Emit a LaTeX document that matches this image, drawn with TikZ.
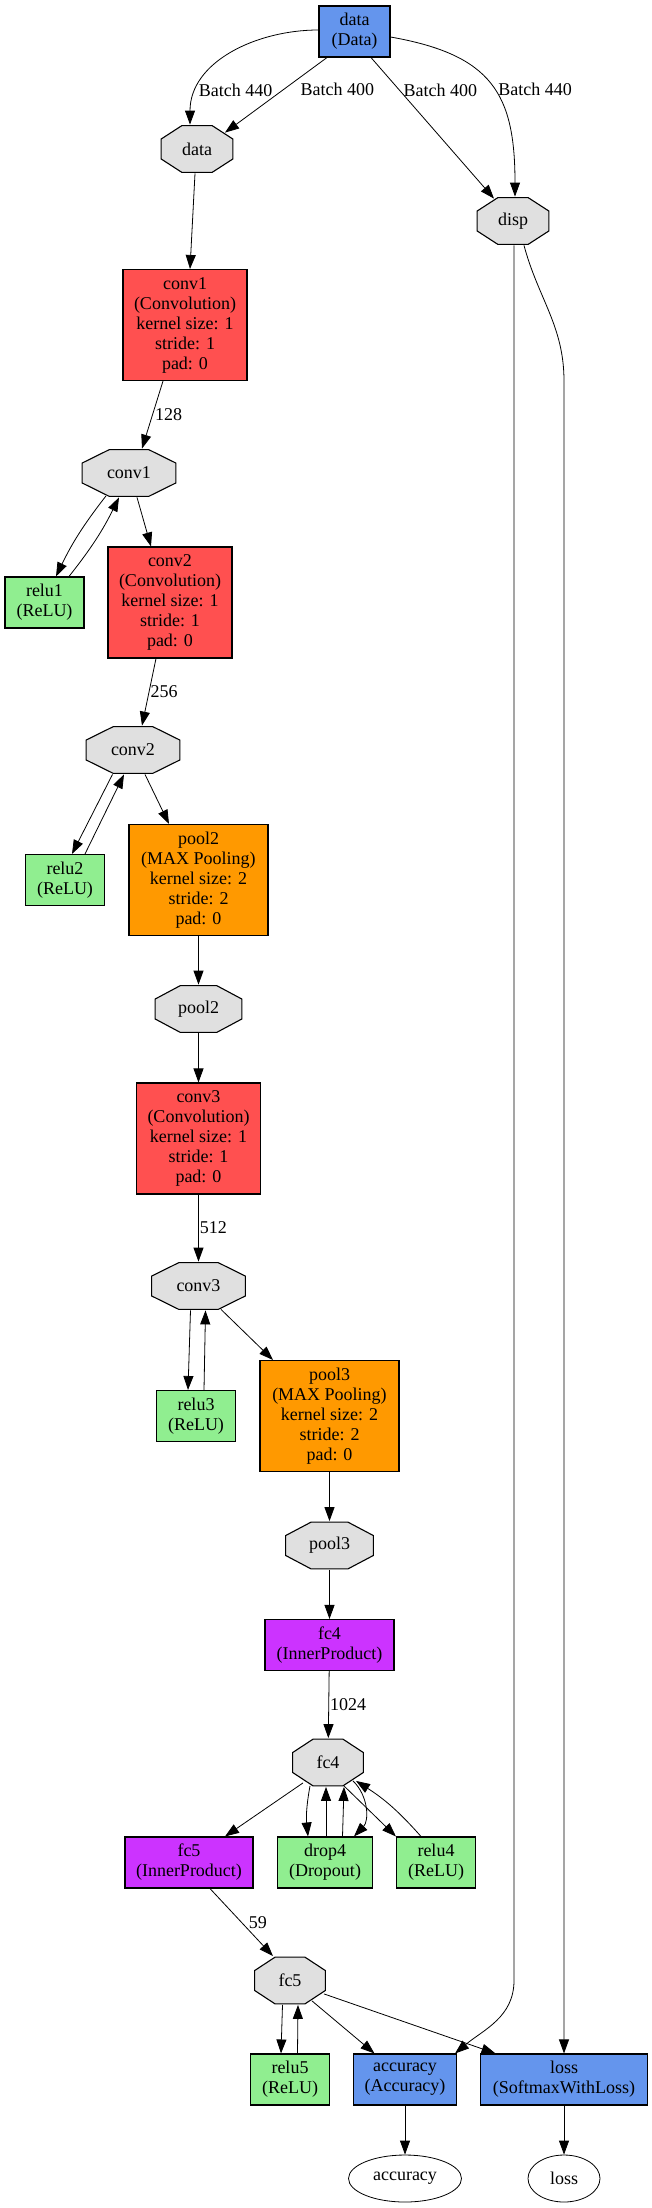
\documentclass[tikz,border=0pt]{standalone}
\usepackage{fontspec}
\setmainfont{Liberation Serif}
\usetikzlibrary{positioning, calc, shapes.geometric, arrows.meta}

\definecolor{datablue}{HTML}{6495ED}
\definecolor{convred}{HTML}{FF5050}
\definecolor{poolorange}{HTML}{FF9900}
\definecolor{fcpurple}{HTML}{CC33FF}
\definecolor{relugreen}{HTML}{90EE90}
\definecolor{blobgray}{HTML}{E0E0E0}

\begin{document}
\begin{tikzpicture}[on grid, thick, font=\fontsize{18}{20}\selectfont,
    layer/.style = {draw, rectangle, align=center, inner sep=1pt, minimum height=51pt, line width=1.1pt},
    big/.style = {minimum height=111pt},
    conv/.style = {layer, big, fill=convred, minimum width=124pt},
    pool/.style = {layer, big, fill=poolorange, minimum width=139pt},
    fc/.style = {layer, fill=fcpurple, minimum width=129pt},
    relu/.style = {layer, fill=relugreen, minimum width=79pt},
    io/.style = {layer, fill=datablue},
    result/.style = {draw, ellipse, inner sep=0pt, minimum height=47pt},
    blob/.style = {inner sep=0pt, minimum height=48pt,
      path picture={
        \coordinate (pnw) at (path picture bounding box.north west);
        \coordinate (pne) at (path picture bounding box.north east);
        \coordinate (pse) at (path picture bounding box.south east);
        \coordinate (psw) at (path picture bounding box.south west);
        \draw[fill=blobgray, line width=1.1pt]
          ($(pnw)!.293!(pne)+(0,-.6pt)$) -- ($(pnw)!.707!(pne)+(0,-.6pt)$)
          -- ($(pne)!.293!(pse)+(-.6pt,0)$) -- ($(pne)!.707!(pse)+(-.6pt,0)$)
          -- ($(pse)!.293!(psw)+(0,.6pt)$) -- ($(pse)!.707!(psw)+(0,.6pt)$)
          -- ($(psw)!.293!(pnw)+(.6pt,0)$) -- ($(psw)!.707!(pnw)+(.6pt,0)$) -- cycle;
      }},
    arr/.style = {-{Triangle[length=14pt, width=10pt]}},
    lbl/.style = {inner sep=1pt, anchor=west}]
    \useasboundingbox (0,0) rectangle (652pt,-2208pt);

    \node[io, minimum width=71pt] (data) at (354.5pt,-31.5pt) {data\\(Data)};
    \node[blob, minimum width=73pt] (datab) [below left=117.5pt and 157.5pt of data] {data};
    \node[blob, minimum width=73pt] (disp) [below right=189.5pt and 158.5pt of data] {disp};
    \node[conv] (conv1) [below left=176pt and 12pt of datab] {conv1\\(Convolution)\\kernel size: 1\\stride: 1\\pad: 0};
    \node[blob, minimum width=95pt] (conv1b) [below left=148pt and 56pt of conv1] {conv1};
    \node[relu] (relu1) [below left=129.5pt and 84.5pt of conv1b] {relu1\\(ReLU)};
    \node[conv] (conv2) [right=125.5pt of relu1] {conv2\\(Convolution)\\kernel size: 1\\stride: 1\\pad: 0};
    \node[blob, minimum width=95pt] (conv2b) [below left=147.5pt and 37pt of conv2] {conv2};
    \node[relu] (relu2) [below left=130pt and 68pt of conv2b] {relu2\\(ReLU)};
    \node[pool] (pool2) [right=133.5pt of relu2] {pool2\\(MAX Pooling)\\kernel size: 2\\stride: 2\\pad: 0};
    \node[blob, minimum width=88pt] (pool2b) [below=129pt of pool2] {pool2};
    \node[conv] (conv3) [below=129.5pt of pool2b] {conv3\\(Convolution)\\kernel size: 1\\stride: 1\\pad: 0};
    \node[blob, minimum width=95pt] (conv3b) [below=147.5pt of conv3] {conv3};
    \node[relu] (relu3) [below left=130pt and 2.5pt of conv3b] {relu3\\(ReLU)};
    \node[pool] (pool3) [right=133.5pt of relu3] {pool3\\(MAX Pooling)\\kernel size: 2\\stride: 2\\pad: 0};
    \node[blob, minimum width=89pt] (pool3b) [below=129.5pt of pool3] {pool3};
    \node[fc] (fc4) [below=99.5pt of pool3b] {fc4\\(InnerProduct)};
    \node[blob, minimum width=72pt] (fc4b) [below left=117.5pt and 1.5pt of fc4] {fc4};
    \node[relu, minimum width=95pt] (drop4) [below left=100pt and 3pt of fc4b] {drop4\\(Dropout)};
    \node[fc, minimum width=128pt] (fc5) [left=136pt of drop4] {fc5\\(InnerProduct)};
    \node[relu] (relu4) [right=111pt of drop4] {relu4\\(ReLU)};
    \node[blob, minimum width=72pt] (fc5b) [below right=118pt and 101pt of fc5] {fc5};
    \node[relu] (relu5) [below=99pt of fc5b] {relu5\\(ReLU)};
    \node[io, minimum width=103pt] (accuracy) [right=115pt of relu5] {accuracy\\(Accuracy)};
    \node[io, minimum width=167pt] (loss) [right=159pt of accuracy] {loss\\(SoftmaxWithLoss)};
    \node[result, minimum width=113pt] (accout) [below=99pt of accuracy] {accuracy};
    \node[result, minimum width=72pt] (lossout) [below=99pt of loss] {loss};

    % data layer tops
    \draw[arr] ([yshift=1.5pt]data.west) to[out=180, in=90] node[lbl, pos=.8] {Batch 440} ([xshift=-7pt]datab.north);
    \draw[arr] ([xshift=-27.5pt]data.south) -- node[lbl, pos=.43, xshift=16pt] {Batch 400} ([xshift=28pt, yshift=-8pt]datab.north);
    \draw[arr] ([xshift=16.5pt]data.south) -- node[lbl, pos=.23, xshift=3pt] {Batch 400} ([xshift=-19pt, yshift=-2pt]disp.north);
    \draw[arr] ([yshift=-5.5pt]data.east) to[out=-10, in=90, looseness=1.3] node[lbl, pos=.53, xshift=3pt] {Batch 440} ([xshift=2pt]disp.north);
    \draw[arr] ([xshift=-2pt]datab.south) -- ([xshift=5pt]conv1.north);
    \draw[arr] ([xshift=1pt]disp.south) -- ($(disp.south |- fc5b.center)+(1pt,0)$) to[out=-90, in=40] ([xshift=-2pt]accuracy.north east);
    \draw[arr] ([xshift=11pt]disp.south) to[out=-75, in=90] (loss.north |- conv1.south) -- (loss.north);

    % conv1
    \draw[arr] ([xshift=-22pt]conv1.south) -- node[lbl, pos=.49, xshift=1pt] {128} ([xshift=13pt]conv1b.north);
    \draw[arr] ([xshift=-23pt, yshift=1.5pt]conv1b.south) to[bend right=6] ([xshift=11.5pt]relu1.north);
    \draw[arr] ([xshift=24.5pt]relu1.north) to[bend right=6] ([xshift=-10pt]conv1b.south);
    \draw[arr] ([xshift=8pt]conv1b.south) -- ([xshift=-19pt]conv2.north);

    % conv2
    \draw[arr] ([xshift=-14pt]conv2.south) -- node[lbl, pos=.49] {256} ([xshift=9pt]conv2b.north);
    \draw[arr] ([xshift=-20.5pt]conv2b.south) -- ([xshift=7pt]relu2.north);
    \draw[arr] ([xshift=20pt]relu2.north) -- ([xshift=-9pt]conv2b.south);
    \draw[arr] ([xshift=12pt]conv2b.south) -- ([xshift=-29.5pt]pool2.north);
    \draw[arr] (pool2) -- (pool2b);
    \draw[arr] (pool2b) -- (conv3);

    % conv3
    \draw[arr] (conv3) -- node[lbl, pos=.5] {512} (conv3b);
    \draw[arr] ([xshift=-8pt]conv3b.south) -- ([xshift=-8pt]relu3.north);
    \draw[arr] ([xshift=8pt]relu3.north) -- ([xshift=7pt]conv3b.south);
    \draw[arr] ([xshift=22.5pt, yshift=1pt]conv3b.south) -- ([xshift=-56.5pt]pool3.north);
    \draw[arr] (pool3) -- (pool3b);
    \draw[arr] (pool3b) -- (fc4);

    % fc4
    \draw[arr] (fc4) -- node[lbl, pos=.5] {1024} (fc4b);
    \draw[arr] ([xshift=-25pt, yshift=4pt]fc4b.south) -- ([xshift=36pt]fc5.north);
    \draw[arr] ([xshift=-18pt, yshift=1pt]fc4b.south) to[bend right=8] ([xshift=-17pt]drop4.north);
    \draw[arr] ([xshift=1pt]drop4.north) -- ([xshift=-2pt]fc4b.south);
    \draw[arr] ([xshift=17.5pt]drop4.north) -- ([xshift=16pt]fc4b.south);
    \draw[arr] ([xshift=25pt, yshift=6pt]fc4b.south) to[bend left=45] ([xshift=29pt]drop4.north);
    \draw[arr] ([xshift=16pt, yshift=1pt]fc4b.south) -- (relu4.north west);
    \draw[arr] ([xshift=-15pt]relu4.north) to[bend right=8] ([xshift=28pt, yshift=6pt]fc4b.south);

    % fc5
    \draw[arr] ([xshift=21pt]fc5.south) -- node[lbl, pos=.5, xshift=6pt] {59} ([xshift=-17pt]fc5b.north);
    \draw[arr] ([xshift=-7.5pt]fc5b.south) -- ([xshift=-9pt]relu5.north);
    \draw[arr] ([xshift=7.5pt]relu5.north) -- ([xshift=8pt]fc5b.south);
    \draw[arr] ([xshift=22pt, yshift=4pt]fc5b.south) -- ([xshift=-30.5pt]accuracy.north);
    \draw[arr] ([xshift=34pt, yshift=11pt]fc5b.south) -- ([xshift=-68.5pt]loss.north);
    \draw[arr] (accuracy) -- (accout);
    \draw[arr] (loss) -- (lossout);
\end{tikzpicture}
\end{document}
